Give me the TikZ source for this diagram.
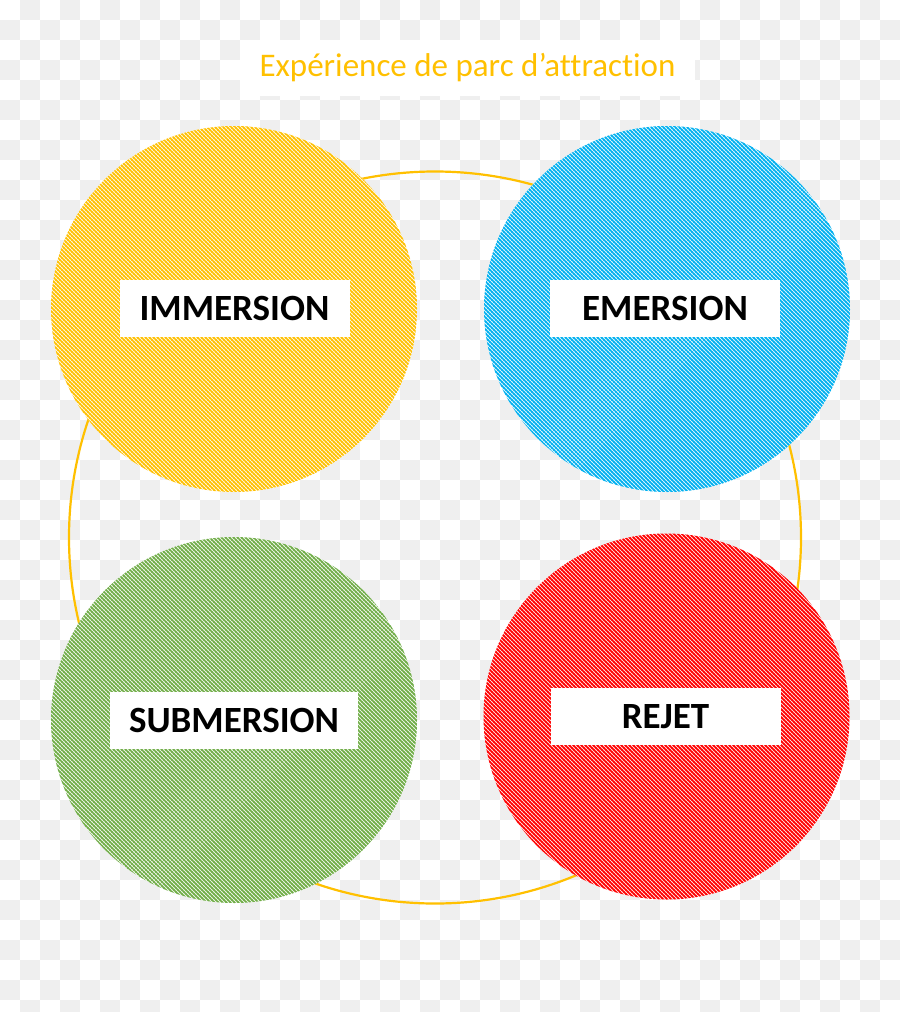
\documentclass[tikz,border=0pt]{standalone}
\usepackage{fontspec}
\setmainfont{Carlito}[Ligatures=NoCommon]
\usetikzlibrary{patterns.meta}
\definecolor{cyel}{HTML}{FFC000}
\definecolor{cblu}{HTML}{00B0F0}
\definecolor{cgrn}{HTML}{70AD47}
\definecolor{cred}{HTML}{FF0000}
\definecolor{checkgray}{HTML}{EFEFEF}
\tikzset{
  bubble/.style={circle, minimum size=366pt, inner sep=0pt, fill=white,
    postaction={pattern={Lines[angle=-45,distance=2.8284271pt,line width=1.85pt]}, pattern color=#1}},
  labelbox/.style={fill=white, minimum width=230pt, minimum height=57pt, inner sep=0pt,
    font=\fontsize{37}{40}\selectfont\bfseries, text=black},
  ring/.style={draw=cyel, line width=2.2pt}
}
\begin{document}
\begin{tikzpicture}[x=1pt,y=-1pt]
\useasboundingbox (0,0) rectangle (900,1012);
\fill[white] (0,0) rectangle (900,1012);
\foreach \i in {0,...,44}{
  \foreach \j in {0,...,50}{
    \pgfmathtruncatemacro{\pq}{mod(\i+\j,2)}
    \ifnum\pq=1
      \fill[checkgray] (\i*20,\j*20) rectangle ++(20,20);
    \fi
  }
}
% title
\fill[white] (240,40) rectangle (695,96);
\node[text=cyel, font=\fontsize{33}{36}\selectfont, inner sep=0pt] (title) at (467.5,68) {Expérience de parc d’attraction};
% ring
\node[circle, ring, minimum size=732pt, inner sep=0pt] (ring) at (435,537.5) {};
% bubbles
\node[bubble=cyel] (imm) at (234,309) {};
\node[bubble=cblu] (emer) at (667,309) {};
\node[bubble=cgrn] (sub) at (234,720) {};
\node[bubble=cred] (rej) at (666.5,716.5) {};
% labels
\node[labelbox] (limm) at (234.5,308.5) {IMMERSION};
\node[labelbox] (lemer) at (665,308.5) {EMERSION};
\node[labelbox, minimum width=248pt] (lsub) at (234,720.5) {SUBMERSION};
\node[labelbox] (lrej) at (665.5,716.5) {REJET};
\end{tikzpicture}
\end{document}
